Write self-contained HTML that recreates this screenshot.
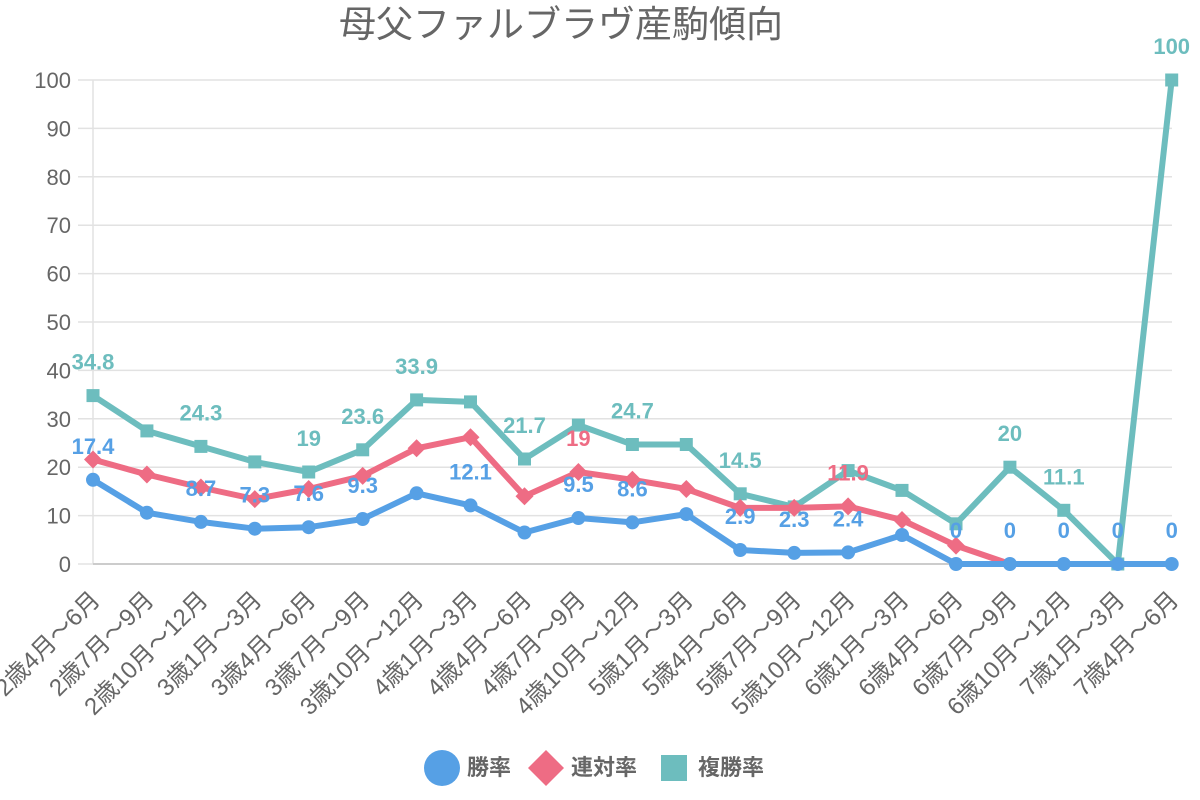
<!DOCTYPE html>
<html><head><meta charset="utf-8"><style>
html,body{margin:0;padding:0;background:#fff;}
svg{display:block;font-family:"Liberation Sans","Noto Sans CJK JP",sans-serif;}
</style></head><body>
<svg width="1200" height="800" viewBox="0 0 1200 800" xmlns="http://www.w3.org/2000/svg">
<text x="561" y="37" font-size="37" fill="#666" text-anchor="middle" font-family="'Noto Sans CJK JP',sans-serif">母父ファルブラヴ産駒傾向</text>
<g stroke="#e2e2e2" stroke-width="1.5">
<line x1="78" y1="80" x2="1172" y2="80"/>
<line x1="78" y1="128.4" x2="1172" y2="128.4"/>
<line x1="78" y1="176.8" x2="1172" y2="176.8"/>
<line x1="78" y1="225.2" x2="1172" y2="225.2"/>
<line x1="78" y1="273.6" x2="1172" y2="273.6"/>
<line x1="78" y1="322" x2="1172" y2="322"/>
<line x1="78" y1="370.4" x2="1172" y2="370.4"/>
<line x1="78" y1="418.8" x2="1172" y2="418.8"/>
<line x1="78" y1="467.2" x2="1172" y2="467.2"/>
<line x1="78" y1="515.6" x2="1172" y2="515.6"/>
<line x1="78" y1="564" x2="93" y2="564"/>
<line x1="93" y1="80" x2="93" y2="564"/>
</g>
<line x1="93" y1="564" x2="1172" y2="564" stroke="#cccccc" stroke-width="2"/>
<g font-size="22" fill="#666" text-anchor="end">
<text x="71" y="88">100</text>
<text x="71" y="136.4">90</text>
<text x="71" y="184.8">80</text>
<text x="71" y="233.2">70</text>
<text x="71" y="281.6">60</text>
<text x="71" y="330">50</text>
<text x="71" y="378.4">40</text>
<text x="71" y="426.8">30</text>
<text x="71" y="475.2">20</text>
<text x="71" y="523.6">10</text>
<text x="71" y="572">0</text>
</g>
<g font-size="24" fill="#666" text-anchor="end" dominant-baseline="central">
<text transform="translate(96,596) rotate(-45)">2歳4月～6月</text>
<text transform="translate(149.9,596) rotate(-45)">2歳7月～9月</text>
<text transform="translate(203.9,596) rotate(-45)">2歳10月～12月</text>
<text transform="translate(257.8,596) rotate(-45)">3歳1月～3月</text>
<text transform="translate(311.7,596) rotate(-45)">3歳4月～6月</text>
<text transform="translate(365.7,596) rotate(-45)">3歳7月～9月</text>
<text transform="translate(419.6,596) rotate(-45)">3歳10月～12月</text>
<text transform="translate(473.5,596) rotate(-45)">4歳1月～3月</text>
<text transform="translate(527.5,596) rotate(-45)">4歳4月～6月</text>
<text transform="translate(581.4,596) rotate(-45)">4歳7月～9月</text>
<text transform="translate(635.4,596) rotate(-45)">4歳10月～12月</text>
<text transform="translate(689.3,596) rotate(-45)">5歳1月～3月</text>
<text transform="translate(743.2,596) rotate(-45)">5歳4月～6月</text>
<text transform="translate(797.2,596) rotate(-45)">5歳7月～9月</text>
<text transform="translate(851.1,596) rotate(-45)">5歳10月～12月</text>
<text transform="translate(905,596) rotate(-45)">6歳1月～3月</text>
<text transform="translate(959,596) rotate(-45)">6歳4月～6月</text>
<text transform="translate(1012.9,596) rotate(-45)">6歳7月～9月</text>
<text transform="translate(1066.8,596) rotate(-45)">6歳10月～12月</text>
<text transform="translate(1120.8,596) rotate(-45)">7歳1月～3月</text>
<text transform="translate(1174.7,596) rotate(-45)">7歳4月～6月</text>
</g>
<!-- teal -->
<polyline fill="none" stroke="#6dbdbe" stroke-width="6" stroke-linejoin="round" points="93,395.6 146.9,430.9 200.9,446.4 254.8,461.9 308.7,472 362.7,449.8 416.6,399.9 470.5,401.9 524.5,459 578.4,425.1 632.4,444.5 686.3,444.5 740.2,493.8 794.2,506.9 848.1,470.6 902,490.4 956,523.8 1009.9,467.2 1063.8,510.3 1117.8,564 1171.7,80"/>
<g fill="#6dbdbe">
<rect x="86.5" y="389.1" width="13" height="13"/><rect x="140.4" y="424.4" width="13" height="13"/><rect x="194.4" y="439.9" width="13" height="13"/><rect x="248.3" y="455.4" width="13" height="13"/><rect x="302.2" y="465.5" width="13" height="13"/><rect x="356.2" y="443.3" width="13" height="13"/><rect x="410.1" y="393.4" width="13" height="13"/><rect x="464" y="395.4" width="13" height="13"/><rect x="518" y="452.5" width="13" height="13"/><rect x="571.9" y="418.6" width="13" height="13"/><rect x="625.9" y="438" width="13" height="13"/><rect x="679.8" y="438" width="13" height="13"/><rect x="733.7" y="487.3" width="13" height="13"/><rect x="787.7" y="500.4" width="13" height="13"/><rect x="841.6" y="464.1" width="13" height="13"/><rect x="895.5" y="483.9" width="13" height="13"/><rect x="949.5" y="517.3" width="13" height="13"/><rect x="1003.4" y="460.7" width="13" height="13"/><rect x="1057.3" y="503.8" width="13" height="13"/><rect x="1111.3" y="557.5" width="13" height="13"/><rect x="1165.2" y="73.5" width="13" height="13"/>
</g>
<!-- red -->
<polyline fill="none" stroke="#ee6c84" stroke-width="6" stroke-linejoin="round" points="93,459.5 146.9,474.5 200.9,487.5 254.8,499.1 308.7,489 362.7,475.9 416.6,448.3 470.5,437.2 524.5,496.2 578.4,472 632.4,479.8 686.3,489 740.2,507.9 794.2,507.9 848.1,506.4 902,520 956,545.6 1009.9,564"/>
<g fill="#ee6c84">
<polygon points="93,450.5 102,459.5 93,468.5 84,459.5"/>
<polygon points="146.9,465.5 155.9,474.5 146.9,483.5 137.9,474.5"/>
<polygon points="200.9,478.5 209.9,487.5 200.9,496.5 191.9,487.5"/>
<polygon points="254.8,490.1 263.8,499.1 254.8,508.1 245.8,499.1"/>
<polygon points="308.7,480 317.7,489 308.7,498 299.7,489"/>
<polygon points="362.7,466.9 371.7,475.9 362.7,484.9 353.7,475.9"/>
<polygon points="416.6,439.3 425.6,448.3 416.6,457.3 407.6,448.3"/>
<polygon points="470.5,428.2 479.5,437.2 470.5,446.2 461.5,437.2"/>
<polygon points="524.5,487.2 533.5,496.2 524.5,505.2 515.5,496.2"/>
<polygon points="578.4,463 587.4,472 578.4,481 569.4,472"/>
<polygon points="632.4,470.8 641.4,479.8 632.4,488.8 623.4,479.8"/>
<polygon points="686.3,480 695.3,489 686.3,498 677.3,489"/>
<polygon points="740.2,498.9 749.2,507.9 740.2,516.9 731.2,507.9"/>
<polygon points="794.2,498.9 803.2,507.9 794.2,516.9 785.2,507.9"/>
<polygon points="848.1,497.4 857.1,506.4 848.1,515.4 839.1,506.4"/>
<polygon points="902,511 911,520 902,529 893,520"/>
<polygon points="956,536.6 965,545.6 956,554.6 947,545.6"/>
</g>
<!-- blue -->
<polyline fill="none" stroke="#56a0e5" stroke-width="6" stroke-linejoin="round" points="93,479.8 146.9,512.7 200.9,521.9 254.8,528.7 308.7,527.2 362.7,519 416.6,493.3 470.5,505.4 524.5,532.5 578.4,518 632.4,522.4 686.3,514.1 740.2,550 794.2,552.9 848.1,552.4 902,535 956,564 1009.9,564 1063.8,564 1117.8,564 1171.7,564"/>
<g fill="#56a0e5">
<circle cx="93" cy="479.8" r="7"/><circle cx="146.9" cy="512.7" r="7"/><circle cx="200.9" cy="521.9" r="7"/><circle cx="254.8" cy="528.7" r="7"/><circle cx="308.7" cy="527.2" r="7"/><circle cx="362.7" cy="519" r="7"/><circle cx="416.6" cy="493.3" r="7"/><circle cx="470.5" cy="505.4" r="7"/><circle cx="524.5" cy="532.5" r="7"/><circle cx="578.4" cy="518" r="7"/><circle cx="632.4" cy="522.4" r="7"/><circle cx="686.3" cy="514.1" r="7"/><circle cx="740.2" cy="550" r="7"/><circle cx="794.2" cy="552.9" r="7"/><circle cx="848.1" cy="552.4" r="7"/><circle cx="902" cy="535" r="7"/><circle cx="956" cy="564" r="7"/><circle cx="1009.9" cy="564" r="7"/><circle cx="1063.8" cy="564" r="7"/><circle cx="1117.8" cy="564" r="7"/><circle cx="1171.7" cy="564" r="7"/>
</g>
<!-- data labels -->
<g font-size="22" font-weight="bold" text-anchor="middle">
<g fill="#6dbdbe">
<text x="93" y="369.6">34.8</text><text x="200.9" y="420.4">24.3</text><text x="308.7" y="446">19</text><text x="362.7" y="423.8">23.6</text><text x="416.6" y="373.9">33.9</text><text x="524.5" y="433">21.7</text><text x="632.4" y="418.5">24.7</text><text x="740.2" y="467.8">14.5</text><text x="1009.9" y="441.2">20</text><text x="1063.8" y="484.3">11.1</text><text x="1171.7" y="54">100</text>
</g>
<g fill="#ee6c84">
<text x="578.4" y="446">19</text><text x="848.1" y="480.4">11.9</text>
</g>
<g fill="#56a0e5">
<text x="93" y="453.8">17.4</text><text x="200.9" y="495.9">8.7</text><text x="254.8" y="502.7">7.3</text><text x="308.7" y="501.2">7.6</text><text x="362.7" y="493">9.3</text><text x="470.5" y="479.4">12.1</text><text x="578.4" y="492">9.5</text><text x="632.4" y="496.4">8.6</text><text x="740.2" y="524">2.9</text><text x="794.2" y="526.9">2.3</text><text x="848.1" y="526.4">2.4</text><text x="956" y="538">0</text><text x="1009.9" y="538">0</text><text x="1063.8" y="538">0</text><text x="1117.8" y="538">0</text><text x="1171.7" y="538">0</text>
</g>
</g>
<!-- legend -->
<circle cx="442" cy="768" r="18" fill="#56a0e5"/>
<polygon points="546,750 564,768 546,786 528,768" fill="#ee6c84"/>
<rect x="661" y="755" width="26" height="26" fill="#6dbdbe"/>
<g font-size="22" font-weight="bold" fill="#666">
<text x="467" y="775">勝率</text>
<text x="571" y="775">連対率</text>
<text x="698" y="775">複勝率</text>
</g>
</svg>
</body></html>
